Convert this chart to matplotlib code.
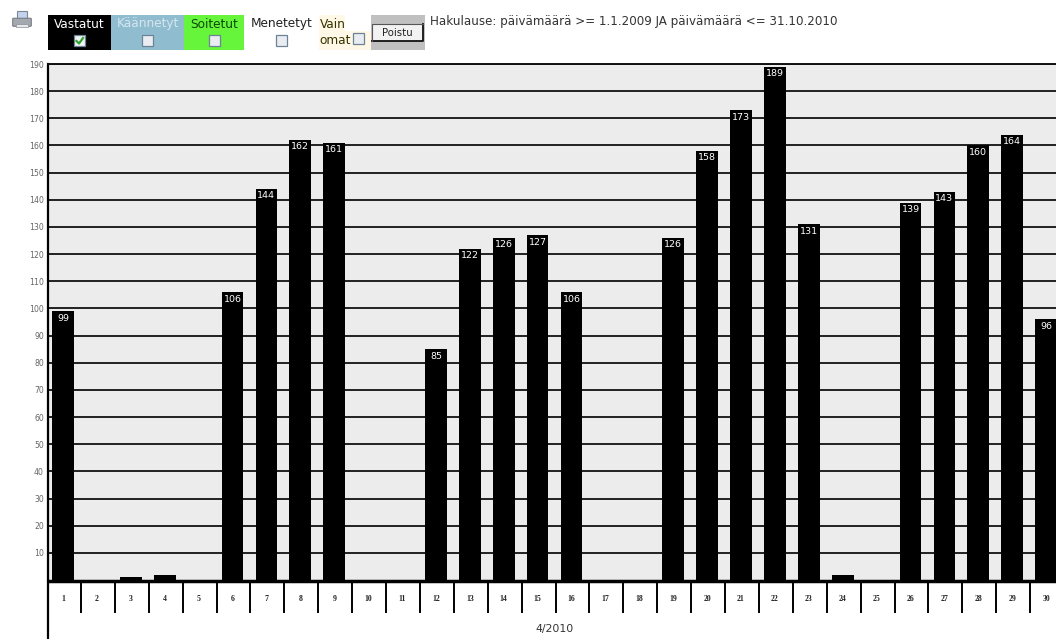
import matplotlib
matplotlib.use("Agg")
import matplotlib.pyplot as plt
from matplotlib.patches import Rectangle, FancyBboxPatch
from matplotlib.ticker import FixedLocator, FixedFormatter

W, H = 1056, 639

days = list(range(1, 31))
answered = [99, 0, 1, 2, 0, 106, 144, 162, 161, 0, 0, 85, 122, 126, 127,
            106, 0, 0, 126, 158, 173, 189, 131, 2, 0, 139, 143, 160, 164, 96]
y_ticks = list(range(10, 200, 10))
month_label = "4/2010"
query_text = "Hakulause: päivämäärä >= 1.1.2009 JA päivämäärä <= 31.10.2010"
filters = ["Vastatut", "Käännetyt", "Soitetut", "Menetetyt"]
filter_colors = ["#000000", "#8fbccf", "#66f53a", "#ffffff"]
filter_text = ["#ffffff", "#d5e6ee", "#0a4a0a", "#222222"]
filter_spans = [(48, 111), (111, 184), (184, 244), (244, 319)]

fig = plt.figure(figsize=(W / 100, H / 100), dpi=100, facecolor="white")

# Chart area, placed in pixels
left, right, top, base = 48, 1056, 64, 580
ax = fig.add_axes([left / W, 1 - base / H, (right - left) / W, (base - top) / H])
ax.set_facecolor("#ececec")
ax.set_ylim(0, 190)
step = 33.9
ax.set_xlim(1 + (left - 63) / step, 1 + (right - 63) / step)

ax.bar(days, answered, width=0.64, color="black", zorder=3)
for d, v in zip(days, answered):
    if v > 2:
        ax.annotate(str(v), (d, v), xytext=(0, -5), textcoords="offset points",
                    ha="center", va="center", color="white", fontsize=6.8, zorder=4,
                    annotation_clip=False, clip_on=True)

ax.set_yticks(y_ticks)
ax.set_yticklabels([str(t) for t in y_ticks], fontsize=5.6, color="#666666")
ax.tick_params(axis="y", length=0, pad=3)
ax.grid(axis="y", color="#111111", linewidth=1.3, zorder=1)
ax.set_axisbelow(True)

# Day numbers sit between the separators hanging from the baseline
ax.set_xticks(days)
ax.set_xticklabels([str(d) for d in days], fontsize=5.6, family="Liberation Serif",
                   fontweight="bold", color="#222222")
ax.tick_params(axis="x", which="major", length=0, pad=10.5)
ax.xaxis.set_minor_locator(FixedLocator([d + 0.53 for d in days[:-1]]))
ax.xaxis.set_minor_formatter(FixedFormatter([]))
ax.tick_params(axis="x", which="minor", length=23.8, width=1.4, color="black")

for side in ("top", "right"):
    ax.spines[side].set_visible(False)
ax.spines["bottom"].set_visible(False)
ax.spines["left"].set_linewidth(1.6)
ax.spines["left"].set_bounds(0, 190)

# Page overlay in pixel coordinates
ov = fig.add_axes([0, 0, 1, 1], facecolor="none")
ov.set_xlim(0, W)
ov.set_ylim(H, 0)
ov.axis("off")

ov.plot([47, right], [581, 581], color="black", lw=2.5, solid_capstyle="butt")
ov.plot([48, 48], [base, H], color="black", lw=1.6, solid_capstyle="butt")
ov.plot([48, right], [top, top], color="#111111", lw=1.4)
ov.text(555, 629, month_label, ha="center", va="center", fontsize=7.8, color="#333333")

# Printer icon
ov.add_patch(Rectangle((17, 11), 10, 8, fc="#c4d4ee", ec="#7f8794", lw=0.8))
ov.add_patch(FancyBboxPatch((13.5, 19), 17, 6.5, boxstyle="round,pad=0.8",
                            fc="#a4a9b0", ec="#6f747b", lw=0.7))
ov.add_patch(Rectangle((16, 23.5), 12, 3, fc="#e6e8ec", ec="#8a8f96", lw=0.5))


def checkbox(x, y, checked=False):
    ov.add_patch(Rectangle((x, y), 11, 11, fc="#e9edf2" if not checked else "#f3f6f3",
                           ec="#6d8296", lw=0.9))
    if checked:
        ov.plot([x + 2.5, x + 5, x + 9], [y + 6, y + 8.5, y + 3], color="#2fa32f", lw=1.6)


for name, color, tc, (x0, x1) in zip(filters, filter_colors, filter_text, filter_spans):
    ov.add_patch(Rectangle((x0, 14.5), x1 - x0, 35.5, fc=color, ec="none"))
    ov.text((x0 + x1) / 2, 24, name, ha="center", va="center", fontsize=8.7, color=tc)
    checkbox((x0 + x1) / 2 - 5.5, 35, checked=name == "Vastatut")

# "Own only" cell
ov.add_patch(Rectangle((319, 14.5), 52, 35.5, fc="#fff8e6", ec="none"))
ov.add_patch(Rectangle((345, 14.5), 26, 16.5, fc="white", ec="none"))
ov.text(319.5, 24, "Vain", ha="left", va="center", fontsize=8.7, color="#333300")
ov.text(319.5, 41, "omat", ha="left", va="center", fontsize=8.7, color="#333300")
checkbox(353, 33)

# Button cell
ov.add_patch(Rectangle((371, 14.5), 54, 35.5, fc="#c0c0c0", ec="none"))
ov.add_patch(Rectangle((372, 24), 51, 17, fc="#f2f2f2", ec="none"))
ov.plot([372, 423, 423], [41, 41, 24], color="#111111", lw=1.3)
ov.plot([372, 372, 423], [41, 24, 24], color="#555555", lw=0.8)
ov.text(397.5, 33, "Poistu", ha="center", va="center", fontsize=7.3, color="#222222")

ov.text(430, 22, query_text, ha="left", va="center", fontsize=8.6, color="#333333")

fig.savefig("out.png", dpi=100, facecolor="white")
